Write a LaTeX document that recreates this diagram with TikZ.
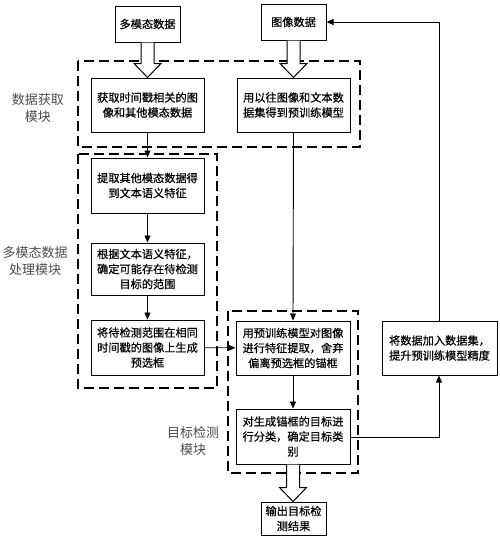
\documentclass[tikz,border=0pt]{standalone}
\usepackage{fontspec}
\newfontfamily\cjk[FakeBold=0.5]{Noto Sans CJK SC}
\newfontfamily\cjklbl{Noto Sans CJK SC}
\usetikzlibrary{arrows.meta,calc}
\tikzset{
  box/.style={draw, line width=1pt, align=center, inner sep=0pt,
    font=\cjk\fontsize{11.2}{15}\selectfont},
  grp/.style={draw, line width=1.3pt, dash pattern=on 10pt off 5pt},
  lbl/.style={align=center, text=black!70, font=\cjklbl\fontsize{13}{17}\selectfont},
  arr/.style={line width=0.9pt, -{Triangle[length=7pt,width=6pt]}},
  hollowarr/.style={draw, fill=white, line width=1pt, line join=miter}
}
\newcommand\hollowlink[2]{%
  \path[hollowarr] let \p1=(#1.south), \p2=(#2.north) in
    (\x1-6.5pt,\y1) -- (\x1-6.5pt,\y2+14pt) -- (\x1-13.5pt,\y2+14pt) -- (\x1,\y2)
    -- (\x1+13.5pt,\y2+14pt) -- (\x1+6.5pt,\y2+14pt) -- (\x1+6.5pt,\y1);}
\begin{document}
\begin{tikzpicture}[x=1pt,y=-1pt]
\useasboundingbox (0,0) rectangle (500,541);
% group boxes
\draw[grp] (78,61) rectangle (360,147);
\draw[grp] (78,154) rectangle (217,388);
\draw[grp] (228,311) rectangle (358,473);
\node[lbl] (l1) at (38,108) {数据获取\\模块};
\node[lbl] (l2) at (35,261) {多模态数据\\处理模块};
\node[lbl] (l3) at (193,441) {目标检测\\模块};
% boxes
\node[box, minimum width=65pt, minimum height=36pt] (src1) at (147.5,24) {多模态数据};
\node[box, minimum width=65pt, minimum height=36pt] (src2) at (293.5,22) {图像数据};
\node[box, minimum width=113pt, minimum height=54pt] (b1) at (147.5,105) {获取时间戳相关的图\\像和其他模态数据};
\node[box, minimum width=113pt, minimum height=54pt] (b2) at (293.5,105) {用以往图像和文本数\\据集得到预训练模型};
\node[box, minimum width=113pt, minimum height=55pt] (b3) at (147.5,185.5) {提取其他模态数据得\\到文本语义特征};
\node[box, minimum width=113pt, minimum height=52pt] (b4) at (147.5,269) {根据文本语义特征，\\确定可能存在待检测\\目标的范围};
\node[box, minimum width=113pt, minimum height=55pt] (b5) at (147.5,347.5) {将待检测范围在相同\\时间戳的图像上生成\\预选框};
\node[box, minimum width=114pt, minimum height=54pt] (b6) at (293,348) {用预训练模型对图像\\进行特征提取，舍弃\\偏离预选框的锚框};
\node[box, minimum width=114pt, minimum height=55pt] (b7) at (293,436.5) {对生成锚框的目标进\\行分类，确定目标类\\别};
\node[box, minimum width=115pt, minimum height=54pt] (b8) at (439.5,348) {将数据加入数据集，\\提升预训练模型精度};
\node[box, minimum width=65pt, minimum height=33pt] (b9) at (293.5,518.5) {输出目标检\\测结果};
\coordinate (c1) at (439,437);
\coordinate (c2) at (439,22);
% hollow arrows
\hollowlink{src1}{b1}
\hollowlink{src2}{b2}
\hollowlink{b7}{b9}
% arrows
\draw[arr] (b1) -- (b3);
\draw[arr] (b3) -- (b4);
\draw[arr] (b4) -- (b5);
\draw[arr] (b5) -- (b6);
\draw[arr] (b2.south) -- (b6.north);
\draw[arr] (b6) -- (b7);
\draw[arr] (b7.east |- c1) -- (c1) -- (b8.south -| c1);
\draw[arr] (b8.north -| c2) -- (c2) -- (src2.east |- c2);
\end{tikzpicture}
\end{document}
